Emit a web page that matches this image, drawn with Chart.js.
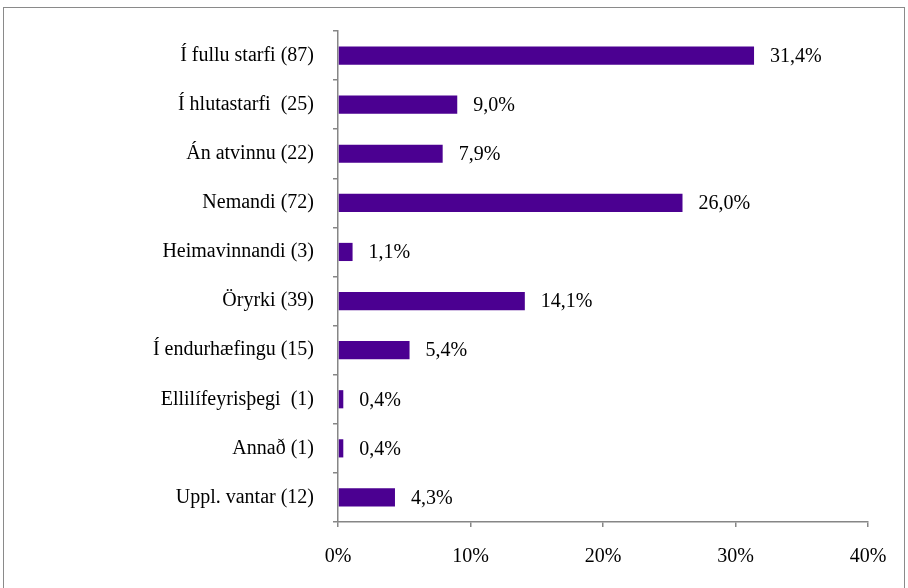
<!DOCTYPE html>
<html>
<head>
<meta charset="utf-8">
<script src="https://cdn.jsdelivr.net/npm/chart.js@4/dist/chart.umd.min.js"></script>
<style>
	body { margin: 0; background: #fff; }
	#wrap { position: relative; width: 908px; height: 588px; overflow: hidden; }
	#frame { position: absolute; left: 3px; top: 7px; width: 900px; height: 620px; border: 1.5px solid #8a8a8a; pointer-events: none; }
</style>
</head>
<body>
<div id="wrap">
	<canvas id="chart" width="908" height="588"></canvas>
	<div id="frame"></div>
</div>
<script>
flokkar = ['Í fullu starfi (87)', 'Í hlutastarfi  (25)', 'Án atvinnu (22)', 'Nemandi (72)', 'Heimavinnandi (3)',
	'Öryrki (39)', 'Í endurhæfingu (15)', 'Ellilífeyrisþegi  (1)', 'Annað (1)', 'Uppl. vantar (12)']
hlutfall = [31.4, 9.0, 7.9, 26.0, 1.1, 14.1, 5.4, 0.4, 0.4, 4.3]
xTicks = [0, 10, 20, 30, 40]

var letur = { family: "'Liberation Serif', 'Times New Roman', serif", size: 20 }

// prosentur vid enda sulna
var merkingar = {
	id: 'merkingar',
	afterDatasetsDraw: function (chart) {
		var ctx = chart.ctx
		var meta = chart.getDatasetMeta(0)
		ctx.save()
		ctx.font = letur.size + 'px ' + letur.family
		ctx.fillStyle = '#000'
		ctx.textAlign = 'left'
		ctx.textBaseline = 'middle'
		meta.data.forEach(function (bar, i) {
			ctx.fillText(hlutfall[i].toFixed(1).replace('.', ',') + '%', bar.x + 16, bar.y + 1)
		})
		ctx.restore()
	}
}

new Chart(document.getElementById('chart').getContext('2d'), {
	type: 'bar',
	data: {
		labels: flokkar,
		datasets: [{
			data: hlutfall,
			backgroundColor: '#4b0091',
			barPercentage: 0.37,
			categoryPercentage: 1
		}]
	},
	options: {
		indexAxis: 'y',
		responsive: false,
		animation: false,
		layout: { padding: { top: 30, left: 0, right: 40, bottom: 0 } },
		plugins: { legend: { display: false }, tooltip: { enabled: false } },
		scales: {
			x: {
				min: 0,
				max: 40,
				afterBuildTicks: function (scale) {
					scale.ticks = xTicks.map(function (v) { return { value: v } })
				},
				afterFit: function (scale) { scale.height = 66 },
				grid: { drawOnChartArea: false, drawTicks: true, tickLength: 5, color: '#868686', lineWidth: 1.5 },
				border: { color: '#868686', width: 1.5 },
				ticks: {
					color: '#000',
					font: letur,
					padding: 18,
					maxRotation: 0,
					callback: function (v) { return v + '%' }
				}
			},
			y: {
				afterFit: function (scale) { scale.width = 338 },
				grid: { drawOnChartArea: false, drawTicks: true, tickLength: 5, color: '#868686', lineWidth: 1.5 },
				border: { color: '#868686', width: 1.5 },
				ticks: { color: '#000', font: letur, padding: 19 }
			}
		}
	},
	plugins: [merkingar]
})
</script>
</body>
</html>
